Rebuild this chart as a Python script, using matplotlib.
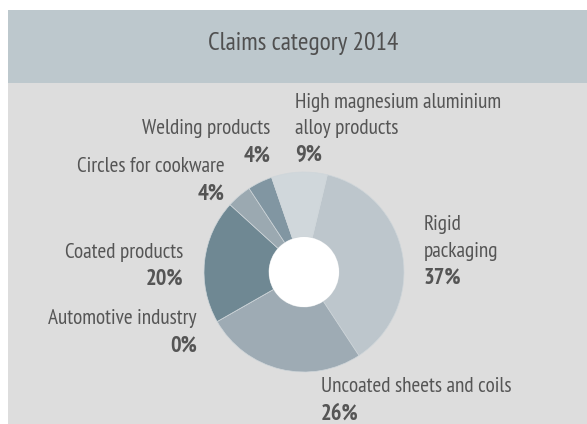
import matplotlib
matplotlib.use("Agg")
import matplotlib.pyplot as plt
from matplotlib import font_manager
from matplotlib.patches import Rectangle, Circle

title = "Claims category 2014"
categories = ["Rigid\npackaging", "Uncoated sheets and coils", "Automotive industry",
              "Coated products", "Circles for cookware", "Welding products",
              "High magnesium aluminium\nalloy products"]
values = [37, 26, 0, 20, 4, 4, 9]
colors = ["#bdc6cc", "#9eabb4", "#8a9aa4", "#6f8893", "#9ba9b1", "#8196a2", "#d0d7db"]

names = {f.name for f in font_manager.fontManager.ttflist}
prefs = ["PT Sans Narrow", "Roboto Condensed", "Fira Sans Condensed", "Open Sans Condensed",
         "Archivo Narrow", "Encode Sans Condensed", "Asap Condensed", "Barlow Semi Condensed",
         "IBM Plex Sans Condensed", "Liberation Sans Narrow", "Roboto"]
narrow = next((p for p in prefs if p in names), "DejaVu Sans")
plt.rcParams['font.family'] = [narrow, 'DejaVu Sans']

W, H = 587, 424
fig = plt.figure(figsize=(W / 100, H / 100), dpi=100)
fig.patch.set_facecolor("white")
ax = fig.add_axes([0, 0, 1, 1])
renderer = fig.canvas.get_renderer()

def fit_size(s, target_px, base=15, weight="normal"):
    t = fig.text(0, 0, s, fontsize=base, fontweight=weight)
    w = t.get_window_extent(renderer).width
    t.remove()
    return base * target_px / w

fs = fit_size("High magnesium aluminium", 208)
bfs = fit_size("20%", 38, weight="bold")
tfs = fit_size(title, 190)

def Y(y):
    return H - y

cx, cy, r = 304, Y(272), 100
ax.pie(values, colors=colors, startangle=76.5, counterclock=False,
       center=(cx, cy), radius=r,
       wedgeprops=dict(width=65, edgecolor="#cfd6da", linewidth=0.5),
       frame=True)
ax.set_xlim(0, W)
ax.set_ylim(0, H)
ax.set_aspect("equal")
ax.set_axis_off()

# panel backgrounds
ax.add_patch(Rectangle((8, 0), W - 8, Y(83), facecolor="#dddddd", edgecolor="none", zorder=-2))
ax.add_patch(Rectangle((8, Y(83)), W - 8, 73, facecolor="#bdc8cd", edgecolor="none", zorder=-2))
ax.text(303, Y(41), title, ha="center", va="center_baseline", fontsize=tfs, color="#505050")
ax.add_patch(Circle((cx, cy), 35, facecolor="white", edgecolor="none", zorder=5))

# label layout: (x, y of name centre, ha)
layout = [(424, 223, "left"), (321, 385, "left"), (197, 317, "right"),
          (183, 250, "right"), (225, 165, "right"), (270, 127, "right"),
          (295, 100, "left")]
lh = 26.5
tc = "#555555"
for cat, v, (x, y, ha) in zip(categories, values, layout):
    lines = cat.split("\n")
    for i, ln in enumerate(lines):
        ax.text(x, Y(y + i * lh), ln, ha=ha, va="center_baseline", fontsize=fs, color=tc)
    ax.text(x, Y(y + len(lines) * lh), f"{v}%", ha=ha, va="center_baseline", fontsize=bfs,
            fontweight="bold", color=tc)

fig.savefig("out.png", dpi=100, facecolor="white")
